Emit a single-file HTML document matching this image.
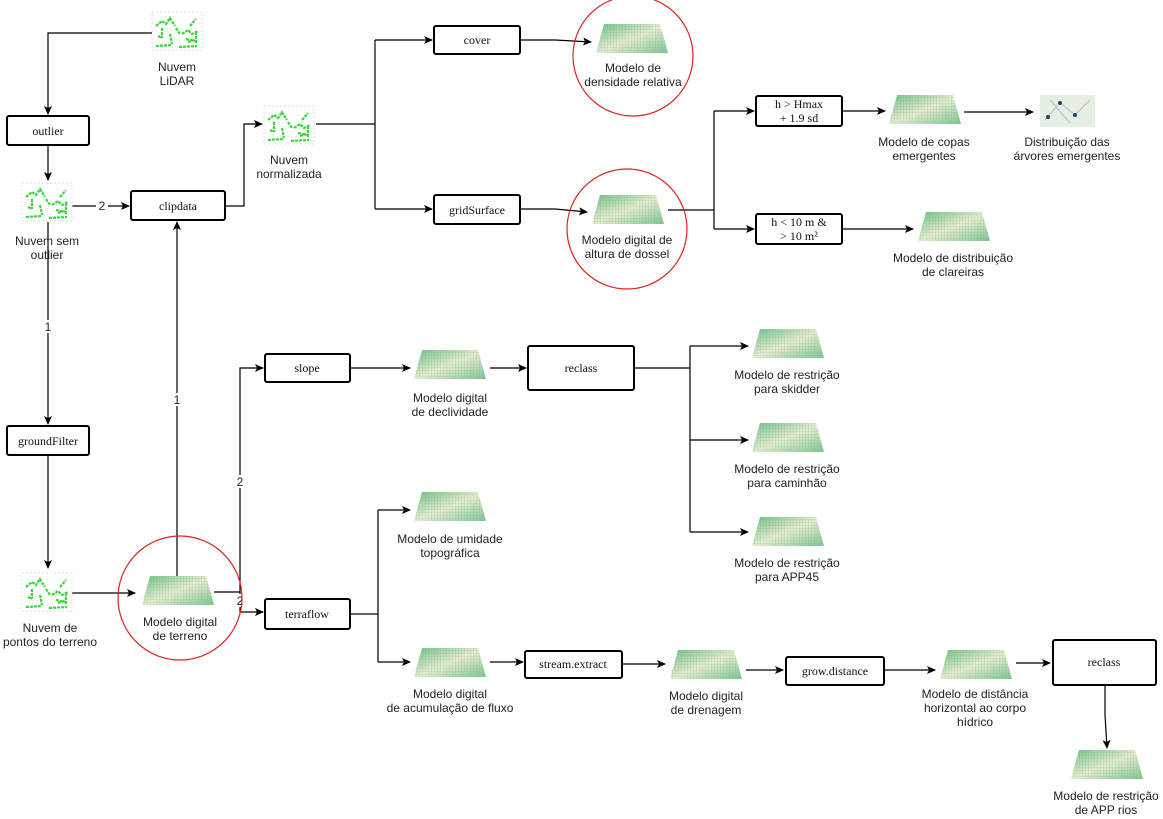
<!DOCTYPE html>
<html><head><meta charset="utf-8"><style>
body{margin:0;background:#fff}
svg{display:block}
.s{font-family:"Liberation Sans",sans-serif;font-size:12px;fill:#222;text-anchor:middle}
.b{font-family:"Liberation Serif",serif;font-size:12px;fill:#111;text-anchor:middle}
.bx{fill:#fff;stroke:#000;stroke-width:2}
.e{stroke:#000;stroke-width:1.2;fill:none}
.c{fill:none;stroke:#e02020;stroke-width:1.2}
</style></head><body>
<svg width="1163" height="819" viewBox="0 0 1163 819" xmlns="http://www.w3.org/2000/svg">
<defs>
<marker id="a" markerWidth="10" markerHeight="10" refX="8" refY="5" orient="auto" markerUnits="userSpaceOnUse"><path d="M0,1 L9,5 L0,9 L2,5z" fill="#000"/></marker>
<linearGradient id="g" x1="0" y1="0" x2="1" y2="1"><stop offset="0" stop-color="#6fbf86"/><stop offset="0.5" stop-color="#e8ecd0"/><stop offset="1" stop-color="#7fc593"/></linearGradient>
<pattern id="gr" width="3" height="3" patternUnits="userSpaceOnUse"><path d="M3,0 V3 M0,3 H3" stroke="#5aa878" stroke-width="0.5" opacity="0.5"/></pattern>
<g id="r"><path d="M8,0 H64 L72,29 H0z" fill="url(#g)"/><path d="M8,0 H64 L72,29 H0z" fill="url(#gr)"/></g>
<g id="p">
<rect x="0" y="0" width="50" height="38" fill="none" stroke="#ddd" stroke-dasharray="2,2"/>
<path d="M4,14 l6,-5 l4,3 l4,-6 l5,8 M4,34 l16,-1 M27,35 l18,-1 M30,22 l6,-4 l4,4 l6,-3 M10,16 v10 M34,27 l10,2 M38,14 l6,-7 M18,22 l2,10 M44,20 v12 M24,16 l4,6 M6,24 l4,2 M36,30 l6,-2" stroke="#3ad63a" stroke-width="2.2" stroke-dasharray="3,1" fill="none"/>
</g>
</defs>

<path class="e" d="M152,33 H48 V114" marker-end="url(#a)"/>
<path class="e" d="M48,145 V180" marker-end="url(#a)"/>
<path class="e" d="M72,206 H129" marker-end="url(#a)"/>
<path class="e" d="M48,222 V424" marker-end="url(#a)"/>
<path class="e" d="M48,455 V568" marker-end="url(#a)"/>
<path class="e" d="M72,593 H135" marker-end="url(#a)"/>
<path class="e" d="M177,576 V222" marker-end="url(#a)"/>
<path class="e" d="M225,206 H244 V124 H262" marker-end="url(#a)"/>
<path class="e" d="M316,124 H375"/>
<path class="e" d="M375,40 V209"/>
<path class="e" d="M375,40 H432" marker-end="url(#a)"/>
<path class="e" d="M375,209 H432" marker-end="url(#a)"/>
<path class="e" d="M520,40 H555 L591,42" marker-end="url(#a)"/>
<path class="e" d="M520,209 H555 L587,212" marker-end="url(#a)"/>
<path class="e" d="M668,210 H714"/>
<path class="e" d="M714,111 V229"/>
<path class="e" d="M714,111 H754" marker-end="url(#a)"/>
<path class="e" d="M714,229 H754" marker-end="url(#a)"/>
<path class="e" d="M842,111 H885" marker-end="url(#a)"/>
<path class="e" d="M964,112 H1033" marker-end="url(#a)"/>
<path class="e" d="M842,229 H913" marker-end="url(#a)"/>
<path class="e" d="M214,592 H240 V368 H263" marker-end="url(#a)"/>
<path class="e" d="M240,592 V612 H263" marker-end="url(#a)"/>
<path class="e" d="M350,368 H410" marker-end="url(#a)"/>
<path class="e" d="M490,368 H526" marker-end="url(#a)"/>
<path class="e" d="M634,368 H690"/>
<path class="e" d="M690,346 V532"/>
<path class="e" d="M690,346 H748" marker-end="url(#a)"/>
<path class="e" d="M690,440 H748" marker-end="url(#a)"/>
<path class="e" d="M690,532 H748" marker-end="url(#a)"/>
<path class="e" d="M350,614 H378"/>
<path class="e" d="M378,510 V662"/>
<path class="e" d="M378,510 H410" marker-end="url(#a)"/>
<path class="e" d="M378,662 H410" marker-end="url(#a)"/>
<path class="e" d="M490,662 H523" marker-end="url(#a)"/>
<path class="e" d="M622,664 H665" marker-end="url(#a)"/>
<path class="e" d="M746,670 H783" marker-end="url(#a)"/>
<path class="e" d="M884,670 H935" marker-end="url(#a)"/>
<path class="e" d="M1016,663 H1050" marker-end="url(#a)"/>
<path class="e" d="M1105,685 V715 L1107,748" marker-end="url(#a)"/>

<g class="s" font-size="11">
<rect x="96" y="199" width="12" height="13" fill="#fff"/><text x="102" y="210">2</text>
<rect x="42" y="320" width="12" height="13" fill="#fff"/><text x="48" y="331">1</text>
<rect x="171" y="393" width="12" height="13" fill="#fff"/><text x="177" y="404">1</text>
<rect x="234" y="475" width="12" height="13" fill="#fff"/><text x="240" y="486">2</text>
<rect x="234" y="594" width="12" height="13" fill="#fff"/><text x="240" y="605">2</text>
</g>

<circle class="c" cx="633" cy="56" r="60"/>
<circle class="c" cx="627" cy="229" r="60"/>
<circle class="c" cx="180" cy="598" r="62"/>

<rect class="bx" x="7" y="116" width="82" height="29" rx="2"/><text class="b" x="48" y="135">outlier</text>
<rect class="bx" x="131" y="191" width="94" height="29" rx="2"/><text class="b" x="178" y="210">clipdata</text>
<rect class="bx" x="7" y="426" width="82" height="29" rx="2"/><text class="b" x="48" y="445">groundFilter</text>
<rect class="bx" x="434" y="26" width="86" height="28" rx="2"/><text class="b" x="477" y="44">cover</text>
<rect class="bx" x="434" y="195" width="86" height="29" rx="2"/><text class="b" x="477" y="214">gridSurface</text>
<rect class="bx" x="756" y="96" width="86" height="30" rx="2"/><text class="b" x="799" y="108">h &gt; Hmax</text><text class="b" x="799" y="122">+ 1.9 sd</text>
<rect class="bx" x="756" y="214" width="86" height="30" rx="2"/><text class="b" x="799" y="226">h &lt; 10 m &amp;</text><text class="b" x="799" y="240">&gt; 10 m²</text>
<rect class="bx" x="265" y="354" width="85" height="28" rx="2"/><text class="b" x="307" y="372">slope</text>
<rect class="bx" x="528" y="346" width="106" height="44" rx="2"/><text class="b" x="581" y="372">reclass</text>
<rect class="bx" x="265" y="599" width="85" height="30" rx="2"/><text class="b" x="307" y="618">terraflow</text>
<rect class="bx" x="525" y="651" width="97" height="27" rx="2"/><text class="b" x="573" y="668">stream.extract</text>
<rect class="bx" x="786" y="657" width="98" height="28" rx="2"/><text class="b" x="835" y="675">grow.distance</text>
<rect class="bx" x="1053" y="640" width="103" height="45" rx="2"/><text class="b" x="1104" y="666">reclass</text>

<use href="#p" x="152" y="12"/>
<use href="#p" x="264" y="106"/>
<use href="#p" x="22" y="183"/>
<use href="#p" x="22" y="573"/>
<g transform="translate(1040,95)"><rect width="55" height="32" fill="#e6eee2"/><path d="M5,25 L20,8 L35,20 L50,5 M10,5 L30,28" stroke="#bcd" stroke-width="1.5" fill="none"/><circle cx="20" cy="8" r="2" fill="#245"/><circle cx="35" cy="20" r="2" fill="#245"/><circle cx="8" cy="22" r="2" fill="#245"/></g>

<use href="#r" x="596" y="24"/>
<use href="#r" x="592" y="195"/>
<use href="#r" x="889" y="95"/>
<use href="#r" x="918" y="212"/>
<use href="#r" x="414" y="350"/>
<use href="#r" x="752" y="329"/>
<use href="#r" x="752" y="423"/>
<use href="#r" x="752" y="517"/>
<use href="#r" x="414" y="492"/>
<use href="#r" x="414" y="648"/>
<use href="#r" x="670" y="650"/>
<use href="#r" x="940" y="650"/>
<use href="#r" x="1071" y="750"/>
<use href="#r" x="142" y="576"/>

<g class="s">
<text x="177" y="71">Nuvem</text><text x="177" y="85">LiDAR</text>
<text x="289" y="164">Nuvem</text><text x="289" y="178">normalizada</text>
<text x="47" y="245">Nuvem sem</text><text x="47" y="259">outlier</text>
<text x="50" y="632">Nuvem de</text><text x="50" y="646">pontos do terreno</text>
<text x="633" y="72">Modelo de</text><text x="633" y="86">densidade relativa</text>
<text x="627" y="244">Modelo digital de</text><text x="627" y="258">altura de dossel</text>
<text x="924" y="146">Modelo de copas</text><text x="924" y="160">emergentes</text>
<text x="1067" y="146">Distribuição das</text><text x="1067" y="160">árvores emergentes</text>
<text x="953" y="262">Modelo de distribuição</text><text x="953" y="276">de clareiras</text>
<text x="450" y="402">Modelo digital</text><text x="450" y="416">de declividade</text>
<text x="787" y="379">Modelo de restrição</text><text x="787" y="393">para skidder</text>
<text x="787" y="473">Modelo de restrição</text><text x="787" y="487">para caminhão</text>
<text x="787" y="567">Modelo de restrição</text><text x="787" y="581">para APP45</text>
<text x="450" y="543">Modelo de umidade</text><text x="450" y="557">topográfica</text>
<text x="180" y="626">Modelo digital</text><text x="180" y="640">de terreno</text>
<text x="450" y="698">Modelo digital</text><text x="450" y="712">de acumulação de fluxo</text>
<text x="706" y="700">Modelo digital</text><text x="706" y="714">de drenagem</text>
<text x="975" y="698">Modelo de distância</text><text x="975" y="712">horizontal ao corpo</text><text x="975" y="726">hídrico</text>
<text x="1106" y="800">Modelo de restrição</text><text x="1106" y="814">de APP rios</text>
</g>
</svg>
</body></html>
